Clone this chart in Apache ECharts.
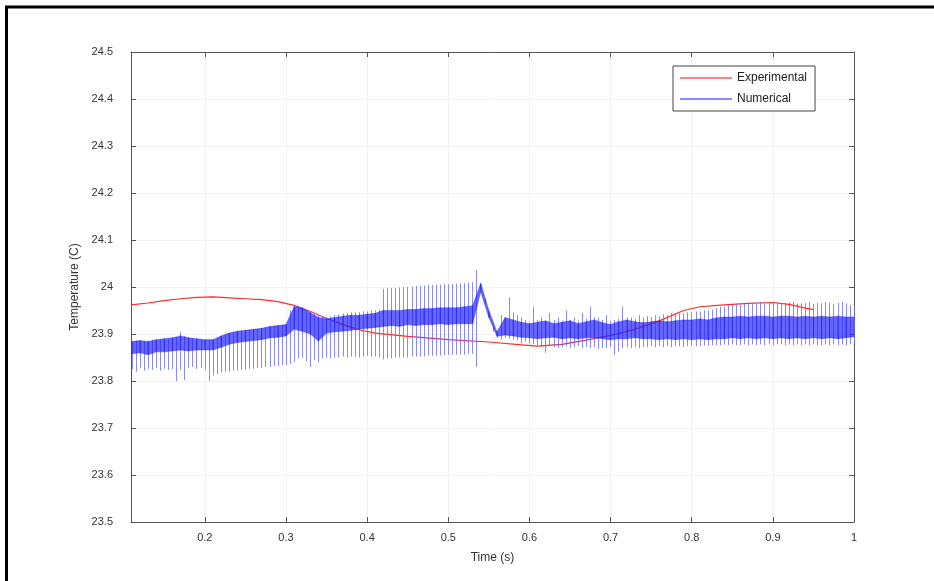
<!DOCTYPE html>
<html>
<head>
<meta charset="utf-8">
<script src="https://cdn.jsdelivr.net/npm/echarts@6/dist/echarts.min.js"></script>
<style>
html,body{margin:0;padding:0;background:#fff;}
#chart{width:934px;height:581px;}
</style>
</head>
<body>
<div id="chart"></div>
<script>
// ---- data ----
var xTickValues = [0.2, 0.3, 0.4, 0.5, 0.6, 0.7, 0.8, 0.9, 1.0];
var xMin = 0.109, xMax = 1.0;
var yMin = 23.5, yMax = 24.5, yStep = 0.1;

// Experimental (red)
var expTime = [0.109, 0.13, 0.15, 0.17, 0.19, 0.21, 0.23, 0.25, 0.27, 0.29, 0.31, 0.33, 0.35, 0.37, 0.39, 0.41, 0.45, 0.50, 0.55, 0.59, 0.61, 0.64, 0.67, 0.70, 0.73, 0.76, 0.79, 0.81, 0.84, 0.87, 0.90, 0.92, 0.94, 0.95];
var expTemp = [23.962, 23.966, 23.971, 23.975, 23.978, 23.979, 23.977, 23.975, 23.973, 23.969, 23.961, 23.948, 23.933, 23.920, 23.909, 23.902, 23.895, 23.888, 23.883, 23.877, 23.874, 23.878, 23.887, 23.897, 23.910, 23.928, 23.950, 23.958, 23.962, 23.965, 23.967, 23.963, 23.955, 23.952];

// Numerical (blue): dense core band, every 10 ms from 0.11 s
var coreStart = 0.11, coreStep = 0.01;
var coreHi = [
23.884, 23.886, 23.884, 23.888, 23.890, 23.892, 23.896, 23.892, 23.890, 23.888,
23.888, 23.896, 23.902, 23.906, 23.908, 23.910, 23.912, 23.916, 23.918, 23.920,
23.958, 23.955, 23.945, 23.935, 23.932, 23.935, 23.938, 23.940, 23.940, 23.942,
23.944, 23.950, 23.950, 23.950, 23.952, 23.952, 23.954, 23.954, 23.956, 23.956,
23.956, 23.958, 23.960, 24.008, 23.950, 23.905, 23.935, 23.930, 23.925, 23.922,
23.925, 23.928, 23.922, 23.925, 23.928, 23.922, 23.926, 23.930, 23.924, 23.920,
23.926, 23.930, 23.926, 23.924, 23.926, 23.928, 23.926, 23.928, 23.930, 23.930,
23.932, 23.930, 23.934, 23.936, 23.936, 23.938, 23.936, 23.938, 23.938, 23.936,
23.938, 23.938, 23.936, 23.938, 23.936, 23.938, 23.936, 23.938, 23.936, 23.936
];
var coreLo = [
23.858, 23.860, 23.856, 23.862, 23.862, 23.864, 23.866, 23.864, 23.866, 23.866,
23.866, 23.872, 23.878, 23.882, 23.884, 23.886, 23.888, 23.892, 23.893, 23.896,
23.910, 23.906, 23.900, 23.885, 23.902, 23.905, 23.906, 23.908, 23.910, 23.912,
23.914, 23.916, 23.918, 23.916, 23.920, 23.918, 23.920, 23.920, 23.922, 23.920,
23.922, 23.922, 23.922, 23.990, 23.935, 23.895, 23.898, 23.896, 23.893, 23.892,
23.890, 23.892, 23.893, 23.890, 23.892, 23.890, 23.892, 23.892, 23.890, 23.888,
23.890, 23.890, 23.892, 23.890, 23.890, 23.888, 23.890, 23.888, 23.890, 23.888,
23.890, 23.888, 23.890, 23.890, 23.892, 23.890, 23.892, 23.890, 23.892, 23.890,
23.892, 23.890, 23.892, 23.890, 23.892, 23.890, 23.892, 23.890, 23.892, 23.894
];

// Numerical (blue): oscillation extremes (thin strokes), every 5 ms from 0.110 s
var spikeStart = 0.110, spikeStep = 0.005;
var spikeHi = [
23.884, 23.886, 23.885, 23.884, 23.886, 23.888, 23.887, 23.888, 23.890, 23.889,
23.892, 23.893, 23.905, 23.896, 23.892, 23.891, 23.890, 23.889, 23.888, 23.888,
23.888, 23.892, 23.896, 23.899, 23.902, 23.904, 23.906, 23.907, 23.908, 23.909,
23.910, 23.911, 23.912, 23.914, 23.916, 23.917, 23.918, 23.919, 23.920, 23.950,
23.962, 23.960, 23.958, 23.952, 23.948, 23.945, 23.942, 23.938, 23.936, 23.938,
23.940, 23.942, 23.944, 23.945, 23.946, 23.946, 23.947, 23.948, 23.948, 23.950,
23.950, 23.952, 23.996, 23.997, 23.998, 23.998, 23.999, 24.000, 24.000, 24.001,
24.002, 24.002, 24.003, 24.004, 24.004, 24.005, 24.005, 24.006, 24.006, 24.007,
24.007, 24.008, 24.008, 24.009, 24.010, 24.036, 24.005, 23.975, 23.945, 23.915,
23.905, 23.940, 23.930, 23.978, 23.945, 23.940, 23.935, 23.930, 23.925, 23.958,
23.930, 23.935, 23.925, 23.945, 23.930, 23.935, 23.928, 23.950, 23.930, 23.935,
23.928, 23.945, 23.932, 23.958, 23.935, 23.935, 23.930, 23.940, 23.928, 23.930,
23.932, 23.958, 23.935, 23.935, 23.932, 23.940, 23.935, 23.938, 23.936, 23.940,
23.938, 23.942, 23.940, 23.945, 23.942, 23.944, 23.944, 23.946, 23.946, 23.948,
23.948, 23.950, 23.950, 23.952, 23.955, 23.958, 23.958, 23.962, 23.962, 23.965,
23.962, 23.964, 23.965, 23.966, 23.964, 23.968, 23.965, 23.965, 23.966, 23.968,
23.965, 23.966, 23.967, 23.968, 23.965, 23.965, 23.966, 23.968, 23.964, 23.966,
23.965, 23.968, 23.966, 23.964, 23.966, 23.968, 23.965, 23.962, 23.960
];
var spikeLo = [
23.825, 23.820, 23.828, 23.822, 23.826, 23.824, 23.828, 23.822, 23.826, 23.824,
23.826, 23.800, 23.824, 23.802, 23.828, 23.830, 23.826, 23.828, 23.824, 23.800,
23.812, 23.815, 23.818, 23.820, 23.820, 23.822, 23.822, 23.824, 23.824, 23.826,
23.826, 23.828, 23.828, 23.830, 23.830, 23.832, 23.832, 23.834, 23.834, 23.836,
23.840, 23.848, 23.850, 23.842, 23.830, 23.845, 23.840, 23.848, 23.850, 23.848,
23.850, 23.850, 23.852, 23.850, 23.852, 23.852, 23.850, 23.852, 23.854, 23.852,
23.852, 23.850, 23.846, 23.848, 23.848, 23.850, 23.850, 23.850, 23.850, 23.852,
23.852, 23.852, 23.852, 23.854, 23.854, 23.854, 23.854, 23.855, 23.855, 23.856,
23.856, 23.856, 23.856, 23.858, 23.858, 23.830, 23.995, 23.965, 23.935, 23.905,
23.892, 23.888, 23.892, 23.890, 23.888, 23.886, 23.880, 23.884, 23.880, 23.878,
23.876, 23.872, 23.860, 23.875, 23.872, 23.870, 23.872, 23.874, 23.870, 23.872,
23.874, 23.870, 23.872, 23.870, 23.872, 23.868, 23.870, 23.870, 23.872, 23.855,
23.862, 23.870, 23.872, 23.870, 23.872, 23.870, 23.872, 23.872, 23.874, 23.872,
23.874, 23.872, 23.874, 23.872, 23.874, 23.874, 23.872, 23.874, 23.875, 23.874,
23.874, 23.876, 23.875, 23.876, 23.876, 23.876, 23.878, 23.876, 23.878, 23.876,
23.876, 23.878, 23.876, 23.878, 23.876, 23.878, 23.876, 23.878, 23.876, 23.878,
23.878, 23.876, 23.878, 23.876, 23.878, 23.876, 23.878, 23.876, 23.878, 23.876,
23.876, 23.878, 23.876, 23.878, 23.876, 23.878, 23.876, 23.878, 23.880
];

// ---- build series data ----
function tAt(start, step, i) { return +(start + step * i).toFixed(4); }
var expData = expTime.map(function (t, i) { return [t, expTemp[i]]; });
// band segments: [t0, lo0, hi0, t1, lo1, hi1]
var bandData = [];
for (var k = 0; k < coreHi.length - 1; k++) {
  bandData.push([tAt(coreStart, coreStep, k), coreLo[k], coreHi[k],
                 tAt(coreStart, coreStep, k + 1), coreLo[k + 1], coreHi[k + 1]]);
}
var spikeData = spikeLo.map(function (v, i) {
  var t = tAt(spikeStart, spikeStep, i);
  return { coords: [[t, v], [t, spikeHi[i]]] };
});

var FONT = "'Liberation Sans', Arial, sans-serif";
var axisCol = '#555';
function fmt(v) { return String(Number((+v).toFixed(1))); }

var chart = echarts.init(document.getElementById('chart'), null, { renderer: 'canvas' });
chart.setOption({
  animation: false,
  backgroundColor: '#ffffff',
  textStyle: { fontFamily: FONT },
  grid: { left: 131, right: 80, top: 52, bottom: 59, containLabel: false },
  graphic: [{
    type: 'rect', silent: true, z: 100,
    shape: { x: 6.5, y: 7, width: 1000, height: 1000 },
    style: { fill: 'none', stroke: '#000', lineWidth: 3 }
  }],
  legend: {
    left: 673, top: 66,
    orient: 'vertical',
    data: ['Experimental', 'Numerical'],
    icon: 'rect',
    itemWidth: 52, itemHeight: 1.5, itemGap: 9,
    padding: [6, 8, 6, 7],
    backgroundColor: '#fff',
    borderColor: '#444', borderWidth: 1,
    textStyle: { fontFamily: FONT, fontSize: 12, color: '#222' }
  },
  xAxis: [{
    type: 'value', min: xMin, max: xMax, position: 'bottom',
    name: 'Time (s)', nameLocation: 'middle', nameGap: 30,
    nameTextStyle: { fontFamily: FONT, fontSize: 12, color: '#333' },
    axisLine: { show: true, lineStyle: { color: axisCol, width: 1 } },
    axisTick: { show: true, inside: true, length: 5, customValues: xTickValues, lineStyle: { color: axisCol } },
    axisLabel: { customValues: xTickValues, formatter: fmt, margin: 10, fontFamily: FONT, fontSize: 11, color: '#333' },
    splitLine: { show: true, lineStyle: { color: '#f2f2f2', width: 1 } }
  }, {
    type: 'value', min: xMin, max: xMax, position: 'top',
    axisLine: { show: true, lineStyle: { color: axisCol, width: 1 } },
    axisTick: { show: true, inside: true, length: 5, customValues: xTickValues, lineStyle: { color: axisCol } },
    axisLabel: { show: false },
    splitLine: { show: false }
  }],
  yAxis: [{
    type: 'value', min: yMin, max: yMax, interval: yStep, position: 'left',
    name: 'Temperature (C)', nameLocation: 'middle', nameGap: 37, nameRotate: 90,
    nameTextStyle: { fontFamily: FONT, fontSize: 12, color: '#333' },
    axisLine: { show: true, lineStyle: { color: axisCol, width: 1 } },
    axisTick: { show: true, inside: true, length: 5, lineStyle: { color: axisCol } },
    axisLabel: { formatter: fmt, margin: 18, fontFamily: FONT, fontSize: 11, color: '#333' },
    splitLine: { show: true, lineStyle: { color: '#f2f2f2', width: 1 } }
  }, {
    type: 'value', min: yMin, max: yMax, interval: yStep, position: 'right',
    axisLine: { show: true, lineStyle: { color: axisCol, width: 1 } },
    axisTick: { show: true, inside: true, length: 5, lineStyle: { color: axisCol } },
    axisLabel: { show: false },
    splitLine: { show: false }
  }],
  series: [{
    name: 'Experimental', type: 'line', data: expData,
    xAxisIndex: 0, yAxisIndex: 0, showSymbol: false, symbol: 'none', silent: true, z: 2,
    lineStyle: { color: '#ff2a2a', width: 1.2 }, itemStyle: { color: '#ff5a5a' }
  }, {
    name: 'NumericalSpikes', type: 'lines', coordinateSystem: 'cartesian2d',
    xAxisIndex: 0, yAxisIndex: 0, silent: true, z: 3,
    data: spikeData,
    lineStyle: { color: '#6a6aff', width: 1, opacity: 0.8 },
    effect: { show: false }
  }, {
    name: 'Numerical', type: 'custom', data: bandData,
    xAxisIndex: 0, yAxisIndex: 0, silent: true, z: 4,
    itemStyle: { color: '#6060ff' },
    encode: { x: [0, 3], y: [1, 2, 4, 5] },
    renderItem: function (params, api) {
      var a = api.coord([api.value(0), api.value(2)]);
      var b = api.coord([api.value(3), api.value(5)]);
      var c = api.coord([api.value(3), api.value(4)]);
      var d = api.coord([api.value(0), api.value(1)]);
      return {
        type: 'polygon',
        shape: { points: [a, b, c, d] },
        style: { fill: 'rgba(30,30,255,0.68)', stroke: 'rgba(20,20,230,0.35)', lineWidth: 1 }
      };
    }
  }]
});
</script>
</body>
</html>
